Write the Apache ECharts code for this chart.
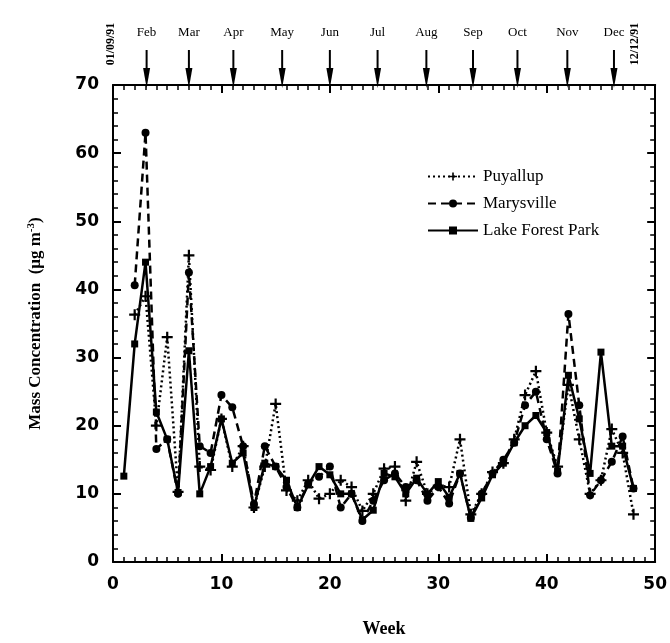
<!DOCTYPE html>
<html>
<head>
<meta charset="utf-8">
<script src="https://cdn.jsdelivr.net/npm/echarts@6/dist/echarts.min.js"></script>
<style>
  html, body { margin: 0; padding: 0; background: #fff; }
  #chart { width: 670px; height: 643px; }
</style>
</head>
<body>
<div id="chart"></div>
<script>
// 数据：每周的质量浓度
var weeks = [1, 2, 3, 4, 5, 6, 7, 8, 9, 10, 11, 12, 13, 14, 15, 16, 17, 18, 19, 20, 21, 22, 23, 24,
             25, 26, 27, 28, 29, 30, 31, 32, 33, 34, 35, 36, 37, 38, 39, 40, 41, 42, 43, 44, 45, 46, 47, 48];
var puyallup = [null, 36.3, 39, 20, 33, 10.3, 45, 14, 13.5, 21, 14, 17, 8, 14, 23.2, 10.5, 9, 12, 9.3, 10, 12, 11, 7.5, 10,
                13.7, 14, 9, 14.7, 10, 11.2, 11, 18, 7, 10, 13.2, 14.5, 18, 24.5, 28, 19, 14, 26, 18, 10, 12, 19.5, 16, 7];
var marysville = [null, 40.6, 63, 16.6, 18, 10, 42.5, 17, 16, 24.5, 22.7, 17, 8.5, 17, 14, 11, 8, 11.5, 12.5, 14, 8, 10, 6, 9,
                  12, 13, 11, 12, 9, 11, 8.6, 13, 6.5, 10, 13, 15, 17.5, 23, 25, 18, 13, 36.4, 23, 9.8, 12, 14.7, 18.4, 10.8];
var lakeForest = [12.6, 32, 44, 22, 18, 10.2, 31, 10, 14, 21, 14.5, 16, 8, 14.5, 14, 12, 8, 11.3, 14, 12.8, 10, 10, 6.2, 7.6,
                  13, 12.5, 10, 12.3, 10, 11.8, 9.5, 13, 6.4, 9.4, 12.8, 14.5, 17.5, 20, 21.5, 19, 13.3, 27.4, 21, 13, 30.8, 17, 17, 10.8];

// 顶部月份箭头
var monthNames = ['Feb', 'Mar', 'Apr', 'May', 'Jun', 'Jul', 'Aug', 'Sep', 'Oct', 'Nov', 'Dec'];
var monthWeeks = [3.1, 7.0, 11.1, 15.6, 20.0, 24.4, 28.9, 33.2, 37.3, 41.9, 46.2];
var dateNames = ['01/09/91', '12/12/91'];
var dateWeeks = [0, 48.3];

var plusPath = 'path://M4,0H6V4H10V6H6V10H4V6H0V4H4Z';

function pairs(vals) {
    var out = [];
    weeks.forEach(function (w, i) {
        if (vals[i] != null) out.push([w, vals[i]]);
    });
    return out;
}

var myChart = echarts.init(document.getElementById('chart'));

var tickFont = { fontFamily: 'DejaVu Sans', fontWeight: 'bold', fontSize: 17, color: '#000' };
var frameLine = { show: true, onZero: false, lineStyle: { color: '#000', width: 2 } };
var majorTick = { show: true, inside: true, length: 8, lineStyle: { color: '#000', width: 2 } };

var option = {
    backgroundColor: '#fff',
    animation: false,
    grid: { left: 113, right: 12, top: 85, bottom: 79 },
    legend: {
        orient: 'vertical',
        left: 422,
        top: 163,
        itemWidth: 50,
        itemHeight: 10,
        itemGap: 10,
        textStyle: { fontFamily: 'Liberation Serif', fontSize: 17, color: '#000' },
        data: ['Puyallup', 'Marysville', 'Lake Forest Park']
    },
    xAxis: [{
        type: 'value', min: 0, max: 50, interval: 10,
        name: 'Week', nameLocation: 'middle', nameGap: 58,
        nameTextStyle: { fontFamily: 'Liberation Serif', fontWeight: 'bold', fontSize: 18, color: '#000' },
        axisLine: frameLine,
        axisTick: majorTick,
        minorTick: { show: true, splitNumber: 10, length: 5, lineStyle: { color: '#000', width: 1.5 } },
        axisLabel: Object.assign({ margin: 14 }, tickFont),
        splitLine: { show: false }
    }, {
        type: 'value', min: 0, max: 50, interval: 10, position: 'top',
        axisLine: frameLine,
        axisTick: majorTick,
        minorTick: { show: true, splitNumber: 10, length: 5, lineStyle: { color: '#000', width: 1.5 } },
        axisLabel: { show: false },
        splitLine: { show: false }
    }],
    yAxis: [{
        type: 'value', min: 0, max: 70, interval: 10,
        name: 'Mass Concentration  (μg m{sup|-3})',
        nameLocation: 'middle', nameGap: 68,
        nameTextStyle: {
            fontFamily: 'Liberation Serif', fontWeight: 'bold', fontSize: 17, color: '#000',
            rich: { sup: { fontFamily: 'Liberation Serif', fontWeight: 'bold', fontSize: 11, verticalAlign: 'top', padding: [0, 0, 8, 0] } }
        },
        axisLine: frameLine,
        axisTick: majorTick,
        minorTick: { show: true, splitNumber: 5, length: 5, lineStyle: { color: '#000', width: 1.5 } },
        axisLabel: Object.assign({ margin: 14 }, tickFont),
        splitLine: { show: false }
    }, {
        type: 'value', min: 0, max: 70, interval: 10, position: 'right',
        axisLine: frameLine,
        axisTick: majorTick,
        minorTick: { show: true, splitNumber: 5, length: 5, lineStyle: { color: '#000', width: 1.5 } },
        axisLabel: { show: false },
        splitLine: { show: false }
    }],
    series: [{
        name: 'Puyallup', type: 'line',
        data: pairs(puyallup),
        symbol: plusPath, symbolSize: 11,
        itemStyle: { color: '#000' },
        lineStyle: { color: '#000', width: 2.5, type: [2, 3] }
    }, {
        name: 'Marysville', type: 'line',
        data: pairs(marysville),
        symbol: 'circle', symbolSize: 8,
        itemStyle: { color: '#000' },
        lineStyle: { color: '#000', width: 2.5, type: [8, 5] }
    }, {
        name: 'Lake Forest Park', type: 'line',
        data: pairs(lakeForest),
        symbol: 'rect', symbolSize: 7,
        itemStyle: { color: '#000' },
        lineStyle: { color: '#000', width: 2.5 }
    }]
};

myChart.setOption(option);

// 顶部的月份标签和箭头，位置通过坐标轴换算
var elements = [];
monthWeeks.forEach(function (w, i) {
    var x = myChart.convertToPixel({ xAxisIndex: 0 }, w);
    elements.push({
        type: 'text', x: x, y: 33,
        style: { text: monthNames[i], fontFamily: 'Liberation Serif', fontSize: 13, fill: '#000', align: 'center', verticalAlign: 'middle' }
    });
    elements.push({
        type: 'line', shape: { x1: x, y1: 50, x2: x, y2: 72 },
        style: { stroke: '#000', lineWidth: 2 }
    });
    elements.push({
        type: 'polygon', shape: { points: [[x - 3.5, 68], [x + 3.5, 68], [x, 88]] },
        style: { fill: '#000' }
    });
});
dateWeeks.forEach(function (w, i) {
    var x = myChart.convertToPixel({ xAxisIndex: 0 }, w);
    elements.push({
        type: 'text', x: x - 2, y: 44, rotation: Math.PI / 2,
        style: { text: dateNames[i], fontFamily: 'Liberation Serif', fontWeight: 'bold', fontSize: 12, fill: '#000', align: 'center', verticalAlign: 'middle' }
    });
});
myChart.setOption({ graphic: elements });
</script>
</body>
</html>
